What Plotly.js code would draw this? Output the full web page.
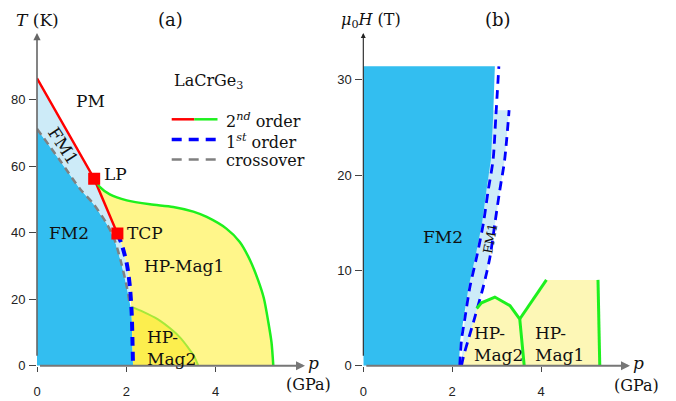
<!DOCTYPE html>
<html><head><meta charset="utf-8">
<script src="https://cdn.plot.ly/plotly-3.0.1.min.js"></script>
<style>html,body{margin:0;padding:0;background:#fff}</style>
</head><body><div id="chart" style="width:676px;height:401px"></div>
<script>
// ---------- Panel (a): T (K) vs p (GPa) ----------
const redP   = [0, 1.28, 1.45, 1.63, 1.80];
const redT   = [86.4, 56.2, 50.8, 45.0, 39.7];
const crossP = [0, 0.5, 0.96, 1.26, 1.56, 1.74, 1.89, 2.01, 2.07];
const crossT = [71.2, 62.0, 53.2, 48.7, 42.7, 37.7, 30.7, 23.7, 19.0];
const firstP = [1.80, 1.89, 2.01, 2.08, 2.12, 2.14, 2.15];
const firstT = [39.7, 36.7, 30.7, 23.7, 15.7, 6, 0];
const hp1P   = [1.28, 1.41, 1.63, 2.01, 2.53, 3.05, 3.50, 3.80, 4.24, 4.54, 4.77, 4.95, 5.08, 5.18, 5.25, 5.29];
const hp1T   = [56.2, 53.7, 51.5, 49.7, 48.5, 47.7, 46.3, 44.7, 41.2, 37.2, 31.7, 25.7, 20.2, 13, 7, 0];
const hp2P   = [2.11, 2.38, 2.70, 3.00, 3.20, 3.38, 3.52, 3.61];
const hp2T   = [17.7, 16.2, 14.0, 11.0, 8.5, 5.5, 2.8, 0];
const pointNames = ["LP", "TCP"];
const pointP = [1.28, 1.80];
const pointT = [56.2, 39.7];
const xTicksA = [0, 2, 4];
const yTicksA = [0, 20, 40, 60, 80];

// ---------- Panel (b): mu0H (T) vs p (GPa) ----------
const leftP  = [2.17, 2.21, 2.29, 2.40, 2.55, 2.70, 2.81, 2.92, 2.98, 3.05];
const leftH  = [0, 2.7, 5.1, 8.3, 11.4, 14.9, 18.4, 21.6, 26.0, 31.4];
const fm2EdgeP = [2.15, 2.18, 2.26, 2.37, 2.52, 2.67, 2.77, 2.87, 2.92, 2.96];
const rightP = [2.21, 2.25, 2.36, 2.51, 2.70, 2.85, 2.96, 3.07, 3.18, 3.28];
const rightH = [0, 0.9, 2.7, 5.1, 8.3, 11.4, 14.9, 18.4, 21.6, 26.8];
const fm2TopH = 31.4;
const fm1TopH = 26.8;
const mag2P  = [2.55, 2.66, 2.96, 3.30, 3.52, 3.62];
const mag2H  = [6.0, 6.6, 7.2, 6.3, 4.9, 0];
const linkP  = [3.52, 4.12];
const linkH  = [4.9, 9.0];
const mag1TopP = [4.12, 5.28];
const mag1TopH = [9.0, 9.0];
const mag1RightP = [5.28, 5.32];
const mag1RightH = [9.0, 0];
const xTicksB = [0, 2, 4];
const yTicksB = [0, 10, 20, 30];

// colours
const cFM2 = '#33bef0', cFM1 = '#cdebf8', cY1 = '#fff68a', cY2 = '#fcee4e', cYb = '#fdf7b6';
const cGreen = '#1ef01e', cRed = '#ff0000', cBlue = '#0000ff', cGrey = '#808080';

const traces = [];
function fill(xs, ys, color, xa, ya) {
  traces.push({x: xs, y: ys, xaxis: xa, yaxis: ya, mode: 'lines', fill: 'toself', fillcolor: color,
               line: {width: 0}, hoverinfo: 'skip', showlegend: false});
}
function line(xs, ys, color, width, dash, xa, ya, shape) {
  traces.push({x: xs, y: ys, xaxis: xa, yaxis: ya, mode: 'lines',
               line: {color: color, width: width, dash: dash || 'solid', shape: shape || 'linear', smoothing: 0.8},
               hoverinfo: 'skip', showlegend: false});
}
const rev = a => a.slice().reverse();

// ---- panel a fills ----
{
  const lastT = crossT[crossT.length - 1];
  const bp = [], bt = [];
  firstP.forEach((p, i) => { if (firstT[i] < lastT) { bp.push(p); bt.push(firstT[i]); } });
  fill([0].concat(crossP, bp, [0]), [0].concat(crossT, bt, [0]), cFM2, 'x', 'y');
  const ap = [], at = [];
  firstP.forEach((p, i) => { if (i > 0 && firstT[i] > lastT) { ap.push(p); at.push(firstT[i]); } });
  fill(redP.concat(ap, rev(crossP)), redT.concat(at, rev(crossT)), cFM1, 'x', 'y');
}
fill(hp1P.concat(rev(firstP), rev(redP.slice(1))), hp1T.concat(rev(firstT), rev(redT.slice(1))), cY1, 'x', 'y');
{
  const bp = [], bt = [];
  firstP.forEach((p, i) => { if (firstT[i] < hp2T[0]) { bp.push(p); bt.push(firstT[i]); } });
  fill(hp2P.concat(rev(bp)), hp2T.concat(rev(bt)), cY2, 'x', 'y');
}
line(hp2P, hp2T, '#a6e83a', 2, 'solid', 'x', 'y', 'spline');
line(crossP, crossT, cGrey, 2.5, '7px,5px', 'x', 'y', 'spline');
line(firstP, firstT, cBlue, 4, '9px,6px', 'x', 'y', 'spline');
line(redP, redT, cRed, 2.5, 'solid', 'x', 'y', 'linear');
line(hp1P, hp1T, cGreen, 2.5, 'solid', 'x', 'y', 'spline');
traces.push({x: pointP, y: pointT, xaxis: 'x', yaxis: 'y', mode: 'markers',
             marker: {symbol: 'square', size: 12, color: cRed}, hoverinfo: 'skip', showlegend: false});

// ---- panel b fills ----
{
  const bp = [], bh = [];
  rightP.forEach((p, i) => { if (rightH[i] < mag2H[0]) { bp.push(p); bh.push(rightH[i]); } });
  fill(bp.concat(mag2P), bh.concat(mag2H), cYb, 'x2', 'y2');
}
fill([mag2P[mag2P.length - 1]].concat(linkP, mag1TopP.slice(1), mag1RightP.slice(1)),
     [mag2H[mag2H.length - 1]].concat(linkH, mag1TopH.slice(1), mag1RightH.slice(1)), cYb, 'x2', 'y2');
fill(rightP.concat([2.6, rightP[0]]), rightH.concat([fm1TopH, 0]), cFM1, 'x2', 'y2');
fill([0].concat(fm2EdgeP, [0]), [0].concat(leftH.slice(0, -1), [fm2TopH, fm2TopH]), cFM2, 'x2', 'y2');
line(leftP, leftH, cBlue, 2.8, '9px,6px', 'x2', 'y2', 'spline');
line(rightP, rightH, cBlue, 2.8, '9px,6px', 'x2', 'y2', 'spline');
line(mag2P, mag2H, cGreen, 3, 'solid', 'x2', 'y2', 'linear');
line(linkP, linkH, cGreen, 3, 'solid', 'x2', 'y2', 'linear');
line(mag1RightP, mag1RightH, cGreen, 3, 'solid', 'x2', 'y2', 'linear');

// ---------- layout ----------
const W = 676, H = 401;
const px = v => v / W, py = v => 1 - v / H;
const serif = '"DejaVu Serif", serif';
const FS = 17;
const tickFont = {family: '"Liberation Sans", Arial, sans-serif', size: 13, color: '#222'};
const yDom = [py(365.7), py(33)];

function axisX(dom, anchor, ticks) {
  return {domain: dom, range: [0, 6], anchor: anchor, showgrid: false, zeroline: false, showline: false,
          tickvals: ticks, ticks: 'outside', ticklen: 5, tickwidth: 1, tickcolor: '#444',
          tickfont: tickFont, ticklabelstandoff: 9, fixedrange: true};
}
function axisY(range, anchor, ticks) {
  return {domain: yDom, range: range, anchor: anchor, showgrid: false, zeroline: false, showline: false,
          tickvals: ticks, ticks: 'outside', ticklen: 7, tickwidth: 1, tickcolor: '#444',
          tickfont: tickFont, ticklabelstandoff: 1, fixedrange: true};
}

const ann = [];
function txt(x, y, text, xref, yref, opts) {
  ann.push(Object.assign({x: x, y: y, xref: xref, yref: yref, text: text, showarrow: false,
    font: {family: serif, size: FS, color: '#111'}, xanchor: 'center', yanchor: 'middle'}, opts || {}));
}
function arrow(x0, y0, x1, y1, xr, yr, color, width) {
  ann.push({x: x1, y: y1, ax: x0, ay: y0, xref: xr, yref: yr, axref: xr, ayref: yr, text: ' ',
            showarrow: true, arrowhead: 2, arrowsize: 0.9, arrowwidth: width, arrowcolor: color, standoff: 0, startstandoff: 0});
}
arrow(0, 0, 0, 100, 'x', 'y', '#666', 1.6);
arrow(0, 0, 6, 0, 'x', 'y', '#777', 2);
arrow(0, 0, 0, 34.9, 'x2', 'y2', '#222', 1.1);
arrow(0, 0, 6, 0, 'x2', 'y2', '#777', 2);

const legFont = {family: serif, size: 16, color: '#111'};
txt(px(37), py(20), '<i>T</i> (K)', 'paper', 'paper');
txt(px(170.5), py(19), '(a)', 'paper', 'paper', {font: {family: serif, size: 18, color: '#111'}});
txt(px(313), py(363), '<i>p</i>', 'paper', 'paper');
txt(px(308), py(384), '(GPa)', 'paper', 'paper', {font: legFont});
txt(px(370.5), py(21), '<i>μ</i><sub>0</sub><i>H</i> (T)', 'paper', 'paper', {font: legFont});
txt(px(498), py(19), '(b)', 'paper', 'paper', {font: {family: serif, size: 18, color: '#111'}});
txt(px(638), py(363), '<i>p</i>', 'paper', 'paper');
txt(px(636), py(385), '(GPa)', 'paper', 'paper', {font: legFont});

txt(1.19, 79.7, 'PM', 'x', 'y');
txt(0.59, 66.0, 'FM1', 'x', 'y', {textangle: 57});
txt(0.72, 40.0, 'FM2', 'x', 'y');
txt(pointP[0] + 0.17, pointT[0] + 1.5, pointNames[0], 'x', 'y', {xanchor: 'left'});
txt(pointP[1] + 0.17, pointT[1] + 0.3, pointNames[1], 'x', 'y', {xanchor: 'left'});
txt(3.28, 29.9, 'HP-Mag1', 'x', 'y');
txt(2.41, 5.2, 'HP-<br>Mag2', 'x', 'y', {xanchor: 'left', align: 'left'});
txt(1.79, 13.5, 'FM2', 'x2', 'y2');
txt(2.87, 13.4, 'FM1', 'x2', 'y2', {textangle: -80, font: {family: serif, size: 13, color: '#111'}});
txt(2.44, 2.3, 'HP-<br>Mag2', 'x2', 'y2', {xanchor: 'left', align: 'left'});
txt(3.82, 2.3, 'HP-<br>Mag1', 'x2', 'y2', {xanchor: 'left', align: 'left'});

txt(px(171.7), py(81.7), 'LaCrGe<sub>3</sub>', 'paper', 'paper', {xanchor: 'left', font: legFont});
txt(px(224), py(121), '2<sup><i>nd</i></sup> order', 'paper', 'paper', {xanchor: 'left', font: legFont});
txt(px(224), py(142), '1<sup><i>st</i></sup> order', 'paper', 'paper', {xanchor: 'left', font: legFont});
txt(px(224), py(160), 'crossover', 'paper', 'paper', {xanchor: 'left', font: legFont});
const shapes = [
  {type: 'line', xref: 'paper', yref: 'paper', x0: px(171.7), x1: px(194.3), y0: py(119.3), y1: py(119.3), line: {color: cRed, width: 2.5}},
  {type: 'line', xref: 'paper', yref: 'paper', x0: px(194.3), x1: px(217.5), y0: py(119.3), y1: py(119.3), line: {color: cGreen, width: 2.5}},
  {type: 'line', xref: 'paper', yref: 'paper', x0: px(171.7), x1: px(217.5), y0: py(139.5), y1: py(139.5), line: {color: cBlue, width: 3.5, dash: '10px,7px'}},
  {type: 'line', xref: 'paper', yref: 'paper', x0: px(171.7), x1: px(217.5), y0: py(159.5), y1: py(159.5), line: {color: cGrey, width: 2.5, dash: '10px,7px'}}
];

const layout = {
  width: W, height: H, margin: {l: 0, r: 0, t: 0, b: 0},
  paper_bgcolor: '#fff', plot_bgcolor: 'rgba(0,0,0,0)', showlegend: false,
  xaxis: axisX([px(37), px(305)], 'y', xTicksA),
  yaxis: axisY([0, 100], 'x', yTicksA),
  xaxis2: axisX([px(363.3), px(630)], 'y2', xTicksB),
  yaxis2: axisY([0, 34.9], 'x2', yTicksB),
  annotations: ann, shapes: shapes
};
Plotly.newPlot('chart', traces, layout, {staticPlot: true, displayModeBar: false});
</script></body></html>
